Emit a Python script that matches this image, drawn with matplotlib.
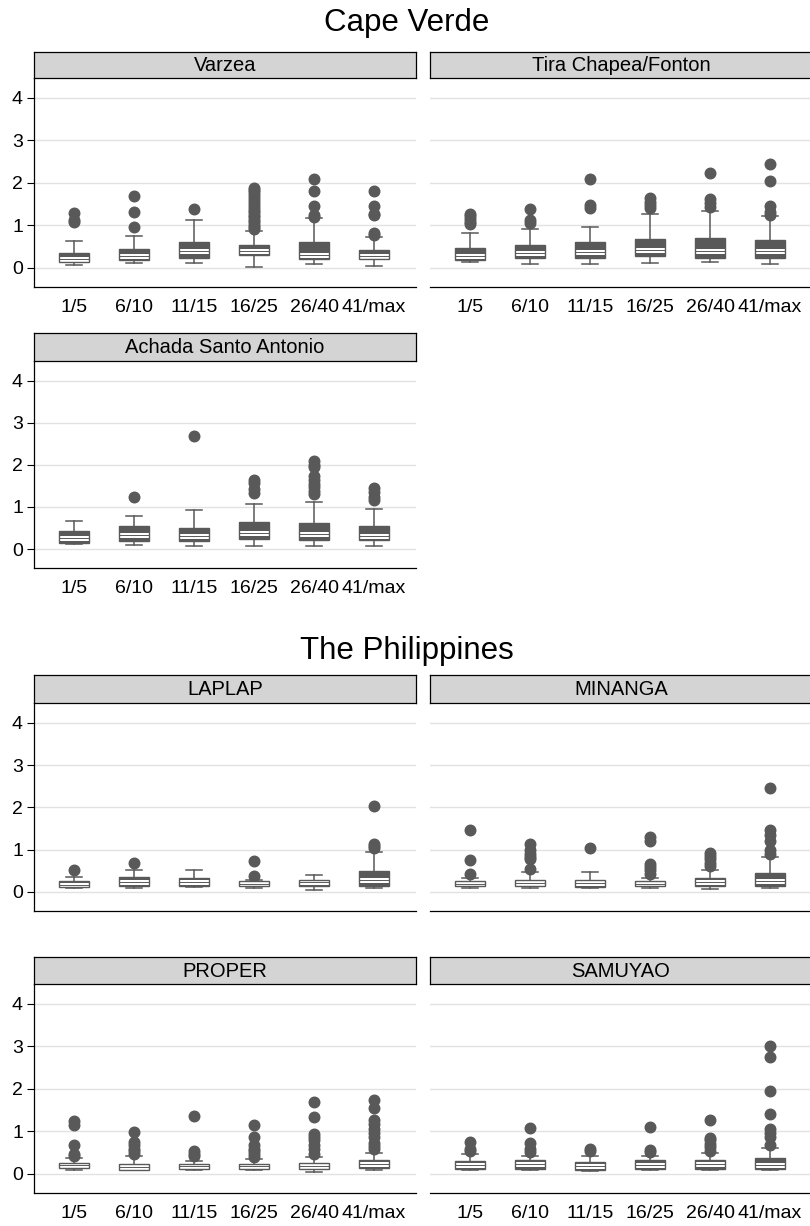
import matplotlib
matplotlib.use('Agg')
import matplotlib.pyplot as plt
from matplotlib.patches import PathPatch

plt.rcParams['font.family'] = ['Liberation Sans', 'DejaVu Sans']

GROUPS = ['1/5', '6/10', '11/15', '16/25', '26/40', '41/max']

# each row: lower whisker, q1, median, q3, upper whisker
varzea_box = [
    [0.06, 0.13, 0.22, 0.36, 0.63],
    [0.12, 0.18, 0.28, 0.44, 0.76],
    [0.12, 0.24, 0.39, 0.62, 1.13],
    [0.03, 0.30, 0.39, 0.54, 0.87],
    [0.10, 0.20, 0.31, 0.61, 1.18],
    [0.05, 0.20, 0.28, 0.42, 0.72],
]
varzea_out = [
    [1.07, 1.12, 1.30],
    [0.96, 1.32, 1.70],
    [1.38],
    [0.92, 0.97, 1.02, 1.08, 1.13, 1.19, 1.25, 1.31, 1.37, 1.44, 1.51, 1.58,
     1.65, 1.72, 1.78, 1.83, 1.87],
    [1.20, 1.25, 1.46, 1.81, 2.09],
    [0.78, 0.83, 1.24, 1.28, 1.46, 1.81],
]

tira_box = [
    [0.13, 0.18, 0.28, 0.47, 0.83],
    [0.10, 0.24, 0.35, 0.53, 0.91],
    [0.10, 0.23, 0.38, 0.62, 0.97],
    [0.12, 0.28, 0.43, 0.67, 1.27],
    [0.14, 0.24, 0.40, 0.71, 1.34],
    [0.10, 0.24, 0.40, 0.65, 1.23],
]
tira_out = [
    [1.03, 1.08, 1.15, 1.22, 1.28],
    [1.06, 1.13, 1.39],
    [1.40, 1.48, 2.09],
    [1.40, 1.48, 1.56, 1.64],
    [1.44, 1.52, 1.61, 2.24],
    [1.24, 1.32, 1.46, 2.05, 2.45],
]

achada_box = [
    [0.12, 0.15, 0.26, 0.43, 0.66],
    [0.09, 0.19, 0.34, 0.56, 0.78],
    [0.07, 0.19, 0.31, 0.49, 0.92],
    [0.07, 0.25, 0.39, 0.65, 1.07],
    [0.07, 0.22, 0.36, 0.62, 1.12],
    [0.07, 0.22, 0.32, 0.54, 0.96],
]
achada_out = [
    [],
    [1.23],
    [2.69],
    [1.33, 1.43, 1.57, 1.64],
    [1.30, 1.38, 1.47, 1.55, 1.63, 1.73, 1.94, 2.00, 2.09],
    [1.17, 1.23, 1.35, 1.45],
]

laplap_box = [
    [0.09, 0.11, 0.17, 0.26, 0.36],
    [0.09, 0.15, 0.23, 0.36, 0.51],
    [0.12, 0.13, 0.23, 0.32, 0.51],
    [0.09, 0.13, 0.20, 0.25, 0.29],
    [0.04, 0.13, 0.23, 0.28, 0.40],
    [0.09, 0.14, 0.29, 0.49, 0.95],
]
laplap_out = [
    [0.52],
    [0.69],
    [],
    [0.37, 0.73],
    [],
    [1.04, 1.09, 1.14, 2.03],
]

minanga_box = [
    [0.09, 0.13, 0.20, 0.25, 0.34],
    [0.09, 0.13, 0.21, 0.29, 0.48],
    [0.09, 0.12, 0.21, 0.29, 0.47],
    [0.09, 0.13, 0.20, 0.27, 0.34],
    [0.06, 0.13, 0.24, 0.33, 0.53],
    [0.09, 0.14, 0.26, 0.46, 0.83],
]
minanga_out = [
    [0.42, 0.75, 1.46],
    [0.54, 0.79, 0.83, 0.91, 0.99, 1.14],
    [1.04],
    [0.43, 0.51, 0.59, 0.67, 1.21, 1.30],
    [0.61, 0.69, 0.77, 0.84, 0.92],
    [0.91, 0.99, 1.21, 1.34, 1.46, 2.47],
]

proper_box = [
    [0.09, 0.13, 0.20, 0.26, 0.38],
    [0.08, 0.10, 0.17, 0.24, 0.42],
    [0.08, 0.12, 0.18, 0.24, 0.30],
    [0.08, 0.12, 0.18, 0.24, 0.34],
    [0.04, 0.11, 0.19, 0.26, 0.39],
    [0.08, 0.15, 0.24, 0.32, 0.49],
]
proper_out = [
    [0.41, 0.47, 0.68, 1.16, 1.24],
    [0.47, 0.53, 0.59, 0.67, 0.75, 0.98],
    [0.43, 0.47, 0.54, 1.36],
    [0.39, 0.46, 0.53, 0.59, 0.68, 0.88, 1.14],
    [0.47, 0.59, 0.69, 0.79, 0.87, 0.95, 1.33, 1.69],
    [0.59, 0.65, 0.73, 0.87, 0.96, 1.06, 1.18, 1.28, 1.54, 1.74],
]

samuyao_box = [
    [0.09, 0.12, 0.21, 0.30, 0.47],
    [0.09, 0.12, 0.24, 0.32, 0.43],
    [0.07, 0.09, 0.19, 0.28, 0.41],
    [0.09, 0.12, 0.22, 0.32, 0.43],
    [0.09, 0.12, 0.24, 0.32, 0.50],
    [0.09, 0.11, 0.22, 0.38, 0.62],
]
samuyao_out = [
    [0.53, 0.59, 0.75],
    [0.51, 0.59, 0.73, 1.09],
    [0.54, 0.59],
    [0.51, 0.57, 1.10],
    [0.55, 0.63, 0.71, 0.79, 0.85, 1.26],
    [0.69, 0.87, 0.96, 1.06, 1.40, 1.95, 2.75, 3.00],
]

W, H = 810, 1226
GRAY = '#595959'
PW = 382  # panel width in px

fig = plt.figure(figsize=(W / 100, H / 100), dpi=100)


def panel(x0, strip_top, top, bottom, name, boxes, outs, show_y, show_x):
    ax = fig.add_axes([x0 / W, 1 - bottom / H, PW / W, (bottom - top) / H])
    stats = [dict(whislo=b[0], q1=b[1], med=b[2], q3=b[3], whishi=b[4], fliers=o)
             for b, o in zip(boxes, outs)]
    art = ax.bxp(stats, positions=range(1, 7), widths=0.5, capwidths=0.28,
                 patch_artist=True,
                 boxprops=dict(facecolor=GRAY, edgecolor=GRAY, linewidth=0),
                 medianprops=dict(color='white', linewidth=3.6, solid_capstyle='butt'),
                 whiskerprops=dict(color=GRAY, linewidth=1.1),
                 capprops=dict(color=GRAY, linewidth=1.1),
                 flierprops=dict(marker='o', markerfacecolor=GRAY,
                                 markeredgecolor=GRAY, markersize=7.6))
    # median: white band with a thin gray line, kept inside the box
    for box, med in zip(art['boxes'], art['medians']):
        med.set_clip_path(box)
        mx, my = med.get_data()
        ax.plot(mx, my, color=GRAY, lw=0.7, zorder=2.15, solid_capstyle='butt')
        ax.add_patch(PathPatch(box.get_path(), fill=False, ec=GRAY, lw=1.0, zorder=2.2))

    ax.set_xlim(0.333, 6.7)
    ax.set_ylim(-0.45, 4.47)
    ax.set_yticks([0, 1, 2, 3, 4])
    ax.set_xticks(range(1, 7))
    ax.set_xticklabels(GROUPS)
    ax.yaxis.grid(True, color='#e2e2e2', lw=1.0)
    ax.set_axisbelow(True)
    for s in ['top', 'right']:
        ax.spines[s].set_visible(False)
    ax.spines['left'].set_visible(show_y)
    ax.spines['left'].set_linewidth(0.9)
    ax.spines['bottom'].set_linewidth(0.9)
    ax.tick_params(axis='x', length=0, labelsize=14, pad=8.5, labelbottom=show_x)
    ax.tick_params(axis='y', length=5, width=0.8, labelsize=14, pad=3,
                   left=show_y, labelleft=show_y)

    sax = fig.add_axes([x0 / W, 1 - top / H, PW / W, (top - strip_top) / H])
    sax.set_facecolor('#d4d4d4')
    sax.set_xticks([])
    sax.set_yticks([])
    for s in sax.spines.values():
        s.set_linewidth(0.9)
    sax.text(0.5, 0.47, name, ha='center', va='center', fontsize=14.5,
             transform=sax.transAxes)
    return ax


L, R = 34, 430
panel(L, 52, 78, 287, 'Varzea', varzea_box, varzea_out, True, True)
panel(R, 52, 78, 287, 'Tira Chapea/Fonton', tira_box, tira_out, False, True)
panel(L, 333, 361, 568, 'Achada Santo Antonio', achada_box, achada_out, True, True)
panel(L, 675, 703, 911, 'LAPLAP', laplap_box, laplap_out, True, False)
panel(R, 675, 703, 911, 'MINANGA', minanga_box, minanga_out, False, False)
panel(L, 957, 984, 1193, 'PROPER', proper_box, proper_out, True, True)
panel(R, 957, 984, 1193, 'SAMUYAO', samuyao_box, samuyao_out, False, True)

fig.text(407 / W, 1 - 23 / H, 'Cape Verde', ha='center', va='center', fontsize=22.5)
fig.text(407 / W, 1 - 651 / H, 'The Philippines', ha='center', va='center', fontsize=22.5)

fig.savefig('out.png', dpi=100, facecolor='white')
